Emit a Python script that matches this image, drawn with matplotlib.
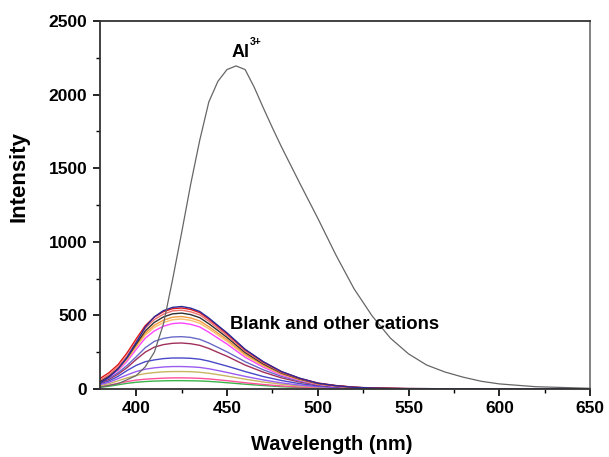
import matplotlib.pyplot as plt
from matplotlib.ticker import MultipleLocator

plt.rcParams['font.family'] = ['Liberation Sans', 'DejaVu Sans']

# Al3+ emission spectrum
al_wl = [380, 390, 400, 405, 410, 415, 420, 425, 430, 435, 440, 445, 450, 455, 460, 465,
         470, 475, 480, 490, 500, 510, 520, 530, 540, 550, 560, 570, 580, 590, 600, 620, 650]
al_int = [12, 35, 90, 150, 250, 440, 740, 1060, 1390, 1690, 1950, 2090, 2170, 2195, 2170, 2050,
          1910, 1775, 1645, 1400, 1160, 910, 680, 495, 345, 238, 162, 115, 80, 52, 34, 15, 4]

# blank and other cations
wl = [380, 385, 390, 395, 400, 405, 410, 415, 420, 425, 430, 435, 440, 445, 450,
      460, 470, 480, 490, 500, 510, 520, 530, 540, 550, 575, 600, 650]
navy = [40, 80, 135, 215, 315, 420, 490, 532, 554, 560, 549, 526, 482, 431, 381,
        269, 185, 118, 73, 39, 22, 11, 6, 3, 2, 1, 0, 0]
red = [70, 110, 165, 245, 340, 430, 488, 525, 545, 550, 540, 518, 474, 425, 375,
       266, 183, 117, 72, 40, 23, 12, 6, 4, 2, 1, 1, 0]
salmon = [58, 96, 150, 225, 321, 412, 471, 508, 530, 535, 524, 503, 460, 412, 364,
          257, 177, 112, 70, 37, 21, 11, 5, 3, 2, 1, 0, 0]
black = [50, 88, 140, 213, 305, 394, 452, 489, 510, 515, 505, 484, 443, 397, 350,
         247, 170, 108, 67, 36, 21, 10, 5, 3, 2, 1, 0, 0]
orange = [52, 88, 138, 207, 295, 379, 433, 467, 487, 492, 482, 462, 423, 379, 335,
          236, 162, 103, 64, 34, 20, 10, 5, 3, 1, 0, 0, 0]
lightorange = [50, 85, 133, 200, 285, 366, 418, 451, 470, 475, 466, 446, 409, 366, 323,
               228, 157, 100, 62, 33, 19, 10, 5, 3, 1, 0, 0, 0]
magenta = [48, 80, 125, 188, 269, 345, 394, 426, 444, 448, 439, 421, 385, 345, 305,
           215, 148, 94, 58, 31, 18, 9, 4, 3, 1, 0, 0, 0]
slate = [45, 72, 110, 160, 218, 280, 323, 343, 353, 355, 350, 337, 312, 282, 252,
         185, 130, 85, 53, 30, 18, 9, 4, 2, 1, 0, 0, 0]
maroon = [40, 65, 100, 145, 200, 250, 284, 301, 310, 312, 307, 296, 275, 248, 222,
          162, 114, 75, 47, 27, 16, 8, 4, 2, 1, 0, 0, 0]
blue = [35, 55, 85, 125, 160, 185, 197, 206, 210, 210, 208, 202, 189, 172, 155,
        118, 84, 57, 36, 21, 13, 6, 3, 2, 1, 0, 0, 0]
violet = [28, 45, 70, 95, 118, 134, 143, 149, 152, 152, 150, 146, 137, 125, 112,
          85, 61, 41, 26, 15, 9, 5, 2, 1, 1, 0, 0, 0]
olive = [22, 35, 55, 75, 92, 104, 111, 116, 118, 118, 117, 113, 106, 97, 87,
         66, 47, 32, 20, 12, 7, 4, 2, 1, 0, 0, 0, 0]
hotpink = [15, 25, 38, 50, 60, 66, 70, 73, 75, 75, 74, 72, 68, 62, 56,
           42, 30, 20, 13, 8, 5, 3, 1, 1, 0, 0, 0, 0]
green = [10, 18, 28, 38, 45, 50, 53, 55, 56, 56, 55, 54, 51, 47, 42,
         32, 23, 15, 10, 6, 4, 2, 1, 1, 0, 0, 0, 0]

cations = [green, hotpink, olive, violet, blue, maroon, slate, magenta,
           lightorange, orange, black, salmon, red, navy]
colors = ['#3cb44b', '#ff4f9a', '#c8b560', '#9a5cf0', '#4848c8', '#a0305a', '#6a6ac8',
          '#ff44ff', '#f8c070', '#f39a3c', '#303030', '#f07070', '#e01818', '#2a2a9a']

fig = plt.figure(figsize=(6.09, 4.57), dpi=100)
ax = fig.add_axes([0.164, 0.149, 0.805, 0.805])

for y, c in zip(cations, colors):
    ax.plot(wl, y, color=c, lw=1.0)
ax.plot(al_wl, al_int, color='#666666', lw=0.9)

ax.set_xlim(380, 650)
ax.set_ylim(0, 2500)
ax.xaxis.set_major_locator(MultipleLocator(50))
ax.xaxis.set_minor_locator(MultipleLocator(25))
ax.yaxis.set_major_locator(MultipleLocator(500))
ax.yaxis.set_minor_locator(MultipleLocator(250))
ax.tick_params(which='major', direction='out', length=5, width=1.2, labelsize=12.5, pad=4)
ax.tick_params(which='minor', direction='out', length=3, width=1.0)
for lab in ax.get_xticklabels() + ax.get_yticklabels():
    lab.set_fontweight('bold')
for s in ax.spines.values():
    s.set_linewidth(1.3)
    s.set_color('#333333')
ax.spines['right'].set_color('#777777')

ax.set_xlabel('Wavelength (nm)', fontsize=14.5, fontweight='bold')
ax.xaxis.set_label_coords(0.472, -0.125)
ax.set_ylabel('Intensity', fontsize=16, fontweight='bold')
ax.yaxis.set_label_coords(-0.143, 0.577)

ax.text(452.7, 2255, 'Al', fontsize=13, fontweight='bold', ha='left', va='baseline')
ax.text(462.5, 2340, '3+', fontsize=7.5, fontweight='bold', ha='left', va='baseline')
ax.text(509, 435, 'Blank and other cations', fontsize=13.3, fontweight='bold',
        ha='center', va='center')

fig.savefig('out.png', dpi=100)
